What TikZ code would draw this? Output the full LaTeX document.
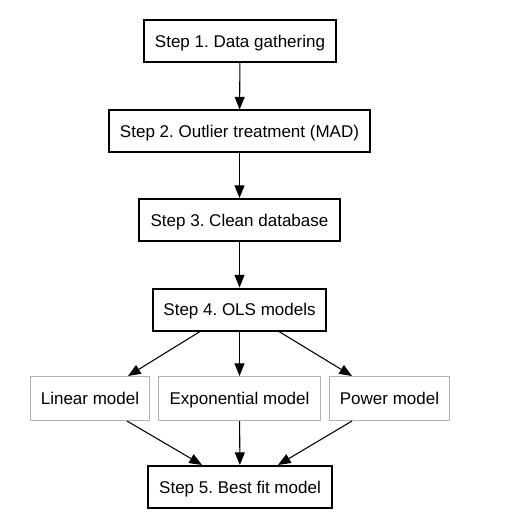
\documentclass[tikz,border=0pt]{standalone}
\usepackage{fontspec}
\setmainfont{Liberation Sans}
\usetikzlibrary{arrows.meta}
\frenchspacing

\begin{document}
\begin{tikzpicture}[x=0.75pt,y=-0.75pt,
        stepbox/.style={draw,line width=1.5pt,minimum height=31.5pt,inner sep=0pt,text height=9.1pt,text depth=-0.6pt,font=\fontsize{12.75}{15}\selectfont},
        modelbox/.style={draw=gray!60,line width=0.75pt,minimum height=33pt,inner sep=0pt,text height=9.1pt,text depth=-0.6pt,font=\fontsize{12.75}{15}\selectfont},
        arr/.style={-{Triangle[length=9.5pt,width=7.5pt]},line width=0.8pt}]
        \useasboundingbox (0,0) rectangle (508,530);
        \node[stepbox,minimum width=144pt] (gather) at (240,41) {Step 1. Data gathering};
        \node[stepbox,minimum width=195.75pt] (outlier) at (239.5,131.5) {Step 2. Outlier treatment (MAD)};
        \node[stepbox,minimum width=150.75pt] (clean) at (239.5,220) {Step 3. Clean database};
        \node[stepbox,minimum width=129.75pt] (ols) at (239.5,309.5) {Step 4. OLS models};
        \node[modelbox,minimum width=89.25pt] (linear) at (90,398.5) {Linear model};
        \node[modelbox,minimum width=121.5pt] (expo) at (239.5,398.5) {Exponential model};
        \node[modelbox,minimum width=90pt] (power) at (389.5,398.5) {Power model};
        \node[stepbox,minimum width=138pt] (best) at (240,487) {Step 5. Best fit model};
        \draw[arr] (gather) -- (outlier);
        \draw[arr] (outlier) -- (clean);
        \draw[arr] (clean) -- (ols);
        \draw[arr] ([xshift=-29.6pt]ols.south) -- ([xshift=28.5pt]linear.north);
        \draw[arr] (ols) -- (expo);
        \draw[arr] ([xshift=29.6pt]ols.south) -- ([xshift=-28.1pt]power.north);
        \draw[arr] ([xshift=27.75pt]linear.south) -- ([xshift=-28.5pt]best.north);
        \draw[arr] (expo) -- (best);
        \draw[arr] ([xshift=-28.1pt]power.south) -- ([xshift=28.5pt]best.north);
    \end{tikzpicture}
\end{document}
